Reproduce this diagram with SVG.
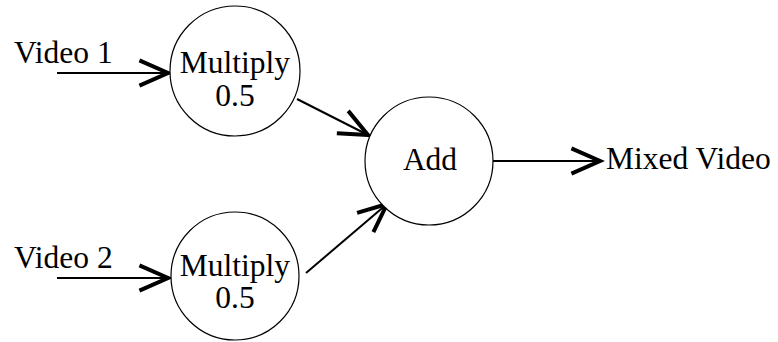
<svg xmlns="http://www.w3.org/2000/svg" width="778" height="342" viewBox="0 0 778 342">
<style>
.node{fill:#fff;stroke:#000;stroke-width:1.2}
.lbl{font-family:"Liberation Serif","Times New Roman",serif;font-size:31.5px;fill:#000}
.edge{fill:none;stroke:#000;stroke-width:2}
</style>
<defs>
<marker id="ah" markerUnits="userSpaceOnUse" markerWidth="40" markerHeight="40" viewBox="-30 -15 35 30" refX="0" refY="0" orient="auto">
<path d="M-25,-11 L0,0 L-25,11" fill="none" stroke="#000" stroke-width="3.5" stroke-linejoin="miter"/>
</marker>
</defs>
<rect width="778" height="342" fill="#fff"/>
<g id="connectors">
<line class="edge" x1="57" y1="73" x2="168" y2="73" marker-end="url(#ah)"/>
<line class="edge" x1="57" y1="278" x2="168" y2="278" marker-end="url(#ah)"/>
<line class="edge" x1="297" y1="99" x2="368" y2="135" marker-end="url(#ah)"/>
<line class="edge" x1="306" y1="273" x2="387" y2="204" marker-end="url(#ah)"/>
<line class="edge" x1="493" y1="161" x2="600" y2="161" marker-end="url(#ah)"/>
</g>
<g id="input1"><text class="lbl" x="14" y="63">Video 1</text></g>
<g id="input2"><text class="lbl" x="14" y="268">Video 2</text></g>
<g id="multiply1">
<circle class="node" cx="235" cy="71" r="65"/>
<text class="lbl" x="235" y="73" text-anchor="middle">Multiply</text>
<text class="lbl" x="235" y="106" text-anchor="middle">0.5</text>
</g>
<g id="multiply2">
<circle class="node" cx="235" cy="276" r="64"/>
<text class="lbl" x="235" y="276" text-anchor="middle">Multiply</text>
<text class="lbl" x="235" y="308" text-anchor="middle">0.5</text>
</g>
<g id="add">
<circle class="node" cx="429" cy="161" r="64"/>
<text class="lbl" x="430" y="170" text-anchor="middle">Add</text>
</g>
<g id="output"><text class="lbl" x="606" y="169">Mixed Video</text></g>
</svg>
